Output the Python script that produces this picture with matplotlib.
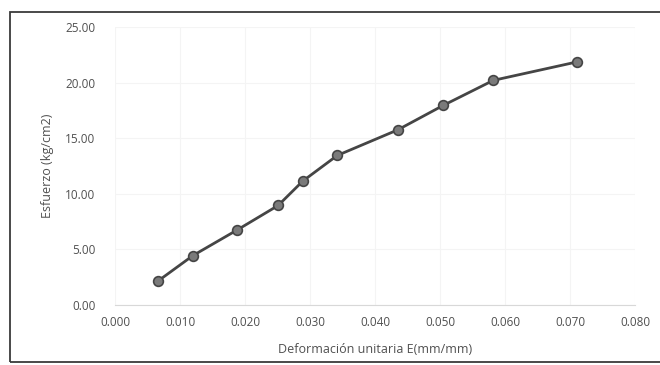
import matplotlib
matplotlib.use("Agg")
import matplotlib.pyplot as plt
from matplotlib.ticker import FormatStrFormatter
from matplotlib.patches import Rectangle

# Stress-strain test readings
deformacion = [0.0066, 0.0120, 0.0188, 0.0251, 0.0289, 0.0342, 0.0435, 0.0505, 0.0582, 0.0710]
esfuerzo = [2.15, 4.45, 6.75, 8.95, 11.15, 13.45, 15.75, 17.95, 20.20, 21.85]

x_ticks = [0.000, 0.010, 0.020, 0.030, 0.040, 0.050, 0.060, 0.070, 0.080]
y_ticks = [0.0, 5.0, 10.0, 15.0, 20.0, 25.0]

plt.rcParams['font.family'] = ['Open Sans', 'DejaVu Sans']
text_color = '#505050'

fig = plt.figure(figsize=(6.6, 3.65), dpi=100)
fig.patch.set_facecolor('white')

# chart-area frame
fig.add_artist(Rectangle((10 / 660, 3 / 365), 1.2, 1 - 15 / 365,
                         transform=fig.transFigure, fill=False,
                         edgecolor='#3a3a3a', linewidth=1.3))

ax = fig.add_axes([115 / 660, 1 - 305 / 365, 520 / 660, 278 / 365])
ax.plot(deformacion, esfuerzo, color='#454545', linewidth=2.0,
        marker='o', markersize=7, markerfacecolor='#7a7a7a',
        markeredgecolor='#454545', markeredgewidth=1.2, zorder=3)

ax.set_xlim(0, 0.080)
ax.set_ylim(0, 25)
ax.set_xticks(x_ticks)
ax.set_yticks(y_ticks)
ax.xaxis.set_major_formatter(FormatStrFormatter('%.3f'))
ax.yaxis.set_major_formatter(FormatStrFormatter('%.2f'))

for side in ('top', 'right', 'left'):
    ax.spines[side].set_visible(False)
ax.spines['bottom'].set_color('#d8d8d8')
ax.grid(True, color='#f4f4f4', linewidth=0.8)
ax.set_axisbelow(True)
ax.tick_params(length=0, labelsize=8.5, colors=text_color)
ax.tick_params(axis='x', pad=8)
ax.tick_params(axis='y', pad=14)

ax.set_xlabel('Deformación unitaria E(mm/mm)', fontsize=9, color=text_color, labelpad=10)
ax.set_ylabel('Esfuerzo (kg/cm2)', fontsize=9, color=text_color, labelpad=8)

fig.savefig('out.png', dpi=100, facecolor='white')
